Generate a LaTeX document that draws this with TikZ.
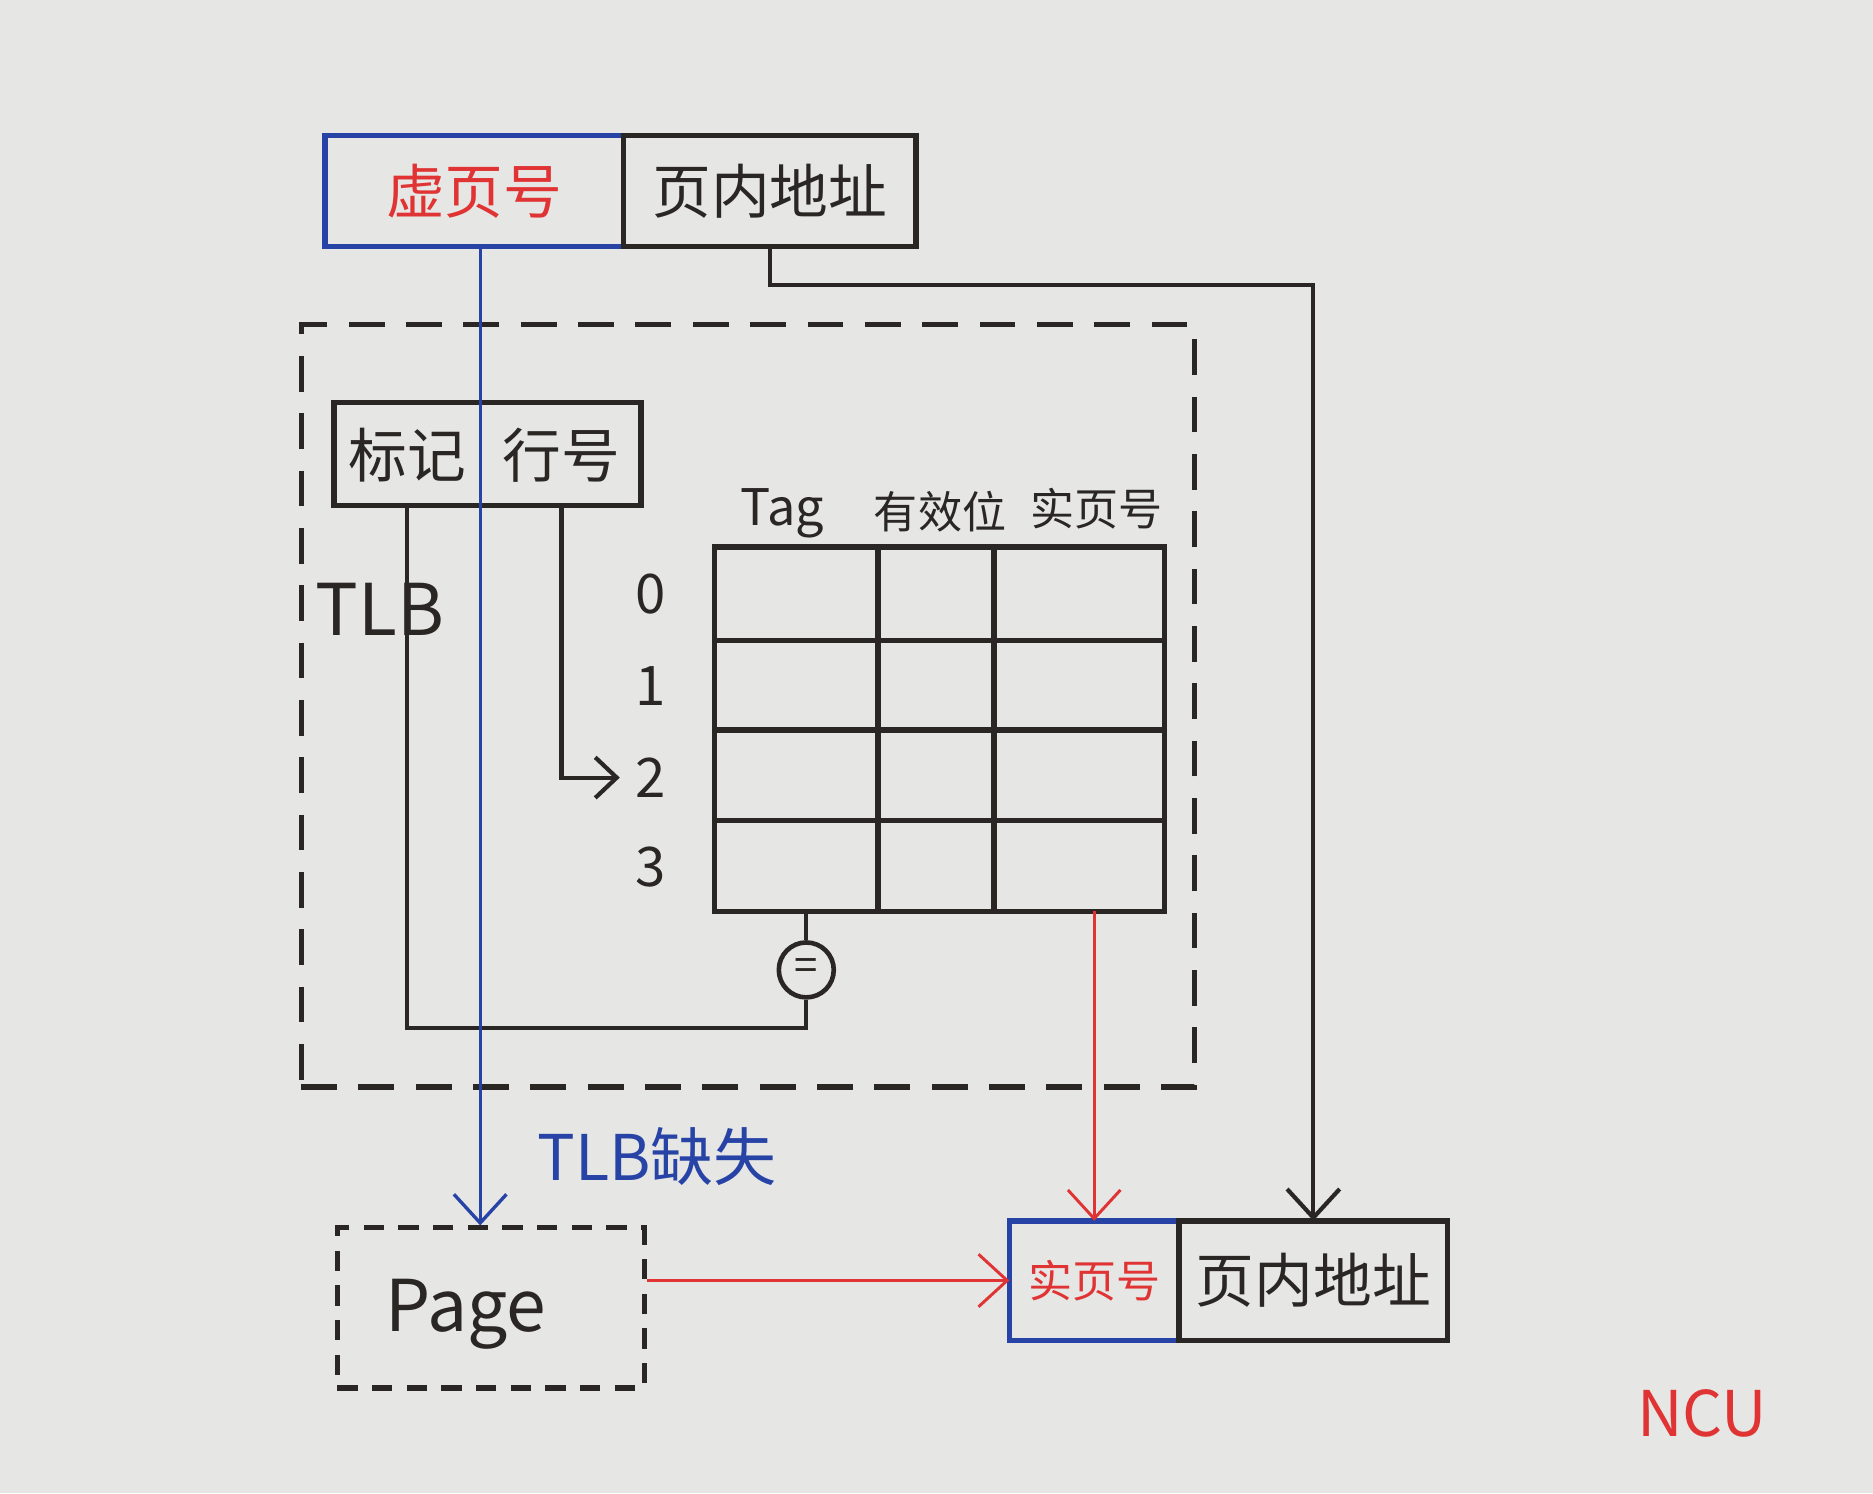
\documentclass[tikz,border=0pt]{standalone}
\usepackage{fontspec}
\setmainfont{Noto Sans CJK SC}
\usetikzlibrary{arrows.meta}

\definecolor{paper}{HTML}{E6E6E4}
\definecolor{ink}{HTML}{2A2624}
\definecolor{penblue}{HTML}{2743A6}
\definecolor{penred}{HTML}{E03434}

\tikzset{
  field/.style={draw=ink,line width=1.3pt,inner sep=0pt,outer sep=0pt,minimum height=9.3mm},
  bluefield/.style={field,draw=penblue,text=penred},
  tlbframe/.style={draw=ink,line width=1.2pt,dash pattern=on 3mm off 1.8mm},
  pagebox/.style={draw=ink,line width=1.2pt,dash pattern=on 1.7mm off 1.2mm},
  big/.style={font=\fontsize{14}{16}\selectfont},
  small/.style={font=\fontsize{10.5}{12}\selectfont},
  digit/.style={font=\fontsize{13}{15}\selectfont},
  arr/.style={-{Straight Barb[length=2.4mm,width=4.4mm]}},
  bluepen/.style={draw=penblue,line width=0.8pt},
  redpen/.style={draw=penred,line width=0.7pt},
}

\begin{document}
\begin{tikzpicture}[x=0.1mm,y=-0.1mm,line width=1pt,draw=ink,text=ink]
\fill[paper] (0,0) rectangle (1568,1250);
\useasboundingbox (0,0) rectangle (1568,1250);

% virtual address
\node[bluefield,big,minimum width=25mm] (vpn) at (397,160) {虚页号};
\node[field,big,minimum width=24.5mm,anchor=west] (off) at (vpn.east) {页内地址};

% TLB
\node[tlbframe,minimum width=74.8mm,minimum height=63.8mm] (tlb) at (626,591) {};
\node[font=\fontsize{17}{20}\selectfont] (tlbname) at (318,510) {TLB};
\node[field,minimum height=8.6mm,minimum width=25.7mm] (lookup) at (408,380) {};
\node[big] (tagf) at (341,381) {标记};
\node[big] (rowf) at (470,381) {行号};

\coordinate (tab-nw) at (598,458);
\coordinate (tab-se) at (975,763);
\draw[line width=1.3pt] (tab-nw) rectangle (tab-se);
\foreach \x in {735,832}
  \draw[line width=1.3pt] (\x,458) -- (\x,763);
\foreach \y in {536,611,687}
  \draw[line width=1.3pt] (598,\y) -- (975,\y);

\node[font=\fontsize{12}{14}\selectfont] (h-tag) at (655,430) {Tag};
\node[small] (h-valid) at (787,428) {有效位};
\node[small] (h-ppn) at (918,426) {实页号};
\foreach \i/\y in {0/497,1/574,2/651,3/726}
  \node[digit] (r\i) at (545,\y) {\i};

\node[draw,circle,line width=1.1pt,minimum size=4.6mm,inner sep=0pt,font=\fontsize{10}{12}\selectfont] (eq) at (675,812) {=};

% page table and physical address
\node[pagebox,minimum width=25.7mm,minimum height=13.4mm] (page) at (411,1095) {};
\node[font=\fontsize{17}{20}\selectfont] (pagename) at (390,1100) {Page};
\node[bluefield,small,minimum width=14.2mm,minimum height=10mm] (ppn) at (916,1072) {实页号};
\node[field,big,minimum width=22.5mm,minimum height=10mm,anchor=west] (poff) at (ppn.east) {页内地址};

\node[text=penblue,font=\fontsize{15}{17}\selectfont] (miss) at (550,968) {TLB缺失};
\node[text=penred,font=\fontsize{15}{17}\selectfont] (ncu) at (1425,1183) {NCU};

% connectors
\draw[arr] (off.south) -- ++(0,32) -| (poff.north);
\draw (lookup.south -| tagf) |- ([yshift=-2.4mm]eq.south) -- (eq.south);
\draw (eq.north) -- (eq.north |- tab-se);
\draw[-{Straight Barb[length=1.8mm,width=3.4mm]}] (lookup.south -| rowf) |- (r2.west);
\draw[bluepen,arr] (vpn.south -| 402,0) -- (page.north -| 402,0);
\draw[redpen,arr] (ppn.north |- tab-se) -- (ppn.north);
\draw[redpen,arr] (page.east |- ppn.west) -- (ppn.west);
\end{tikzpicture}
\end{document}
